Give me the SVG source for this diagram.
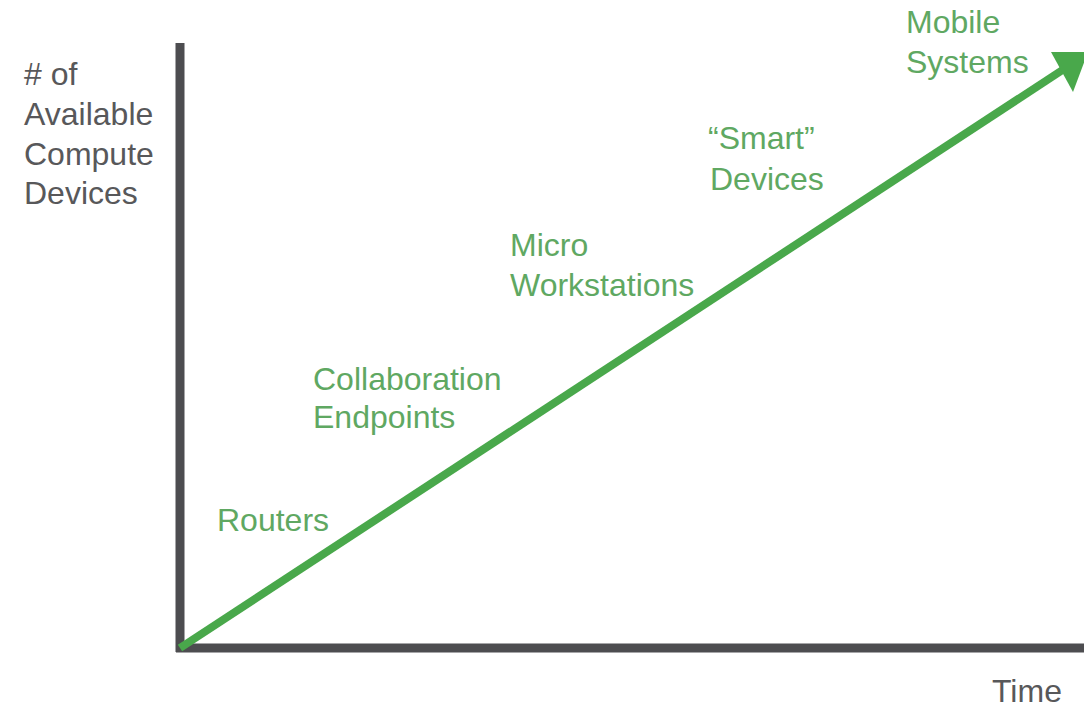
<svg xmlns="http://www.w3.org/2000/svg" width="1084" height="707" viewBox="0 0 1084 707">
<style>
text{font-family:"Liberation Sans",Arial,sans-serif;font-size:32px}
.g{fill:#5fa862}
.k{fill:#58585a}
.ax{stroke:#4d4d50;stroke-width:9;fill:none}
</style>
<rect width="1084" height="707" fill="#fff"/>
<g id="axes">
<line class="ax" x1="180" y1="43" x2="180" y2="652"/>
<line class="ax" x1="176" y1="648" x2="1084" y2="648"/>
</g>
<g id="connectors">
<line x1="180" y1="648" x2="1064" y2="69" stroke="#49a84b" stroke-width="8"/>
<polygon points="1051,52 1088,52 1073,92" fill="#49a84b"/>
</g>
<g id="ylabel" class="k"><text x="24" y="85">
# of</text><text x="24" y="125">Available</text><text x="24" y="165">Compute</text><text x="24" y="204">Devices</text></g>
<g id="time"><text class="k" x="992" y="702">Time</text></g>
<g id="routers"><text class="g" x="217" y="531">Routers</text></g>
<g id="collab" class="g"><text x="313" y="390">Collaboration</text><text x="313" y="428">Endpoints</text></g>
<g id="micro" class="g"><text x="510" y="256">Micro</text><text x="510" y="296">Workstations</text></g>
<g id="smart" class="g"><text x="708" y="149">“Smart”</text><text x="710" y="190">Devices</text></g>
<g id="mobile" class="g"><text x="906" y="33">Mobile</text><text x="906" y="73">Systems</text></g>
</svg>
